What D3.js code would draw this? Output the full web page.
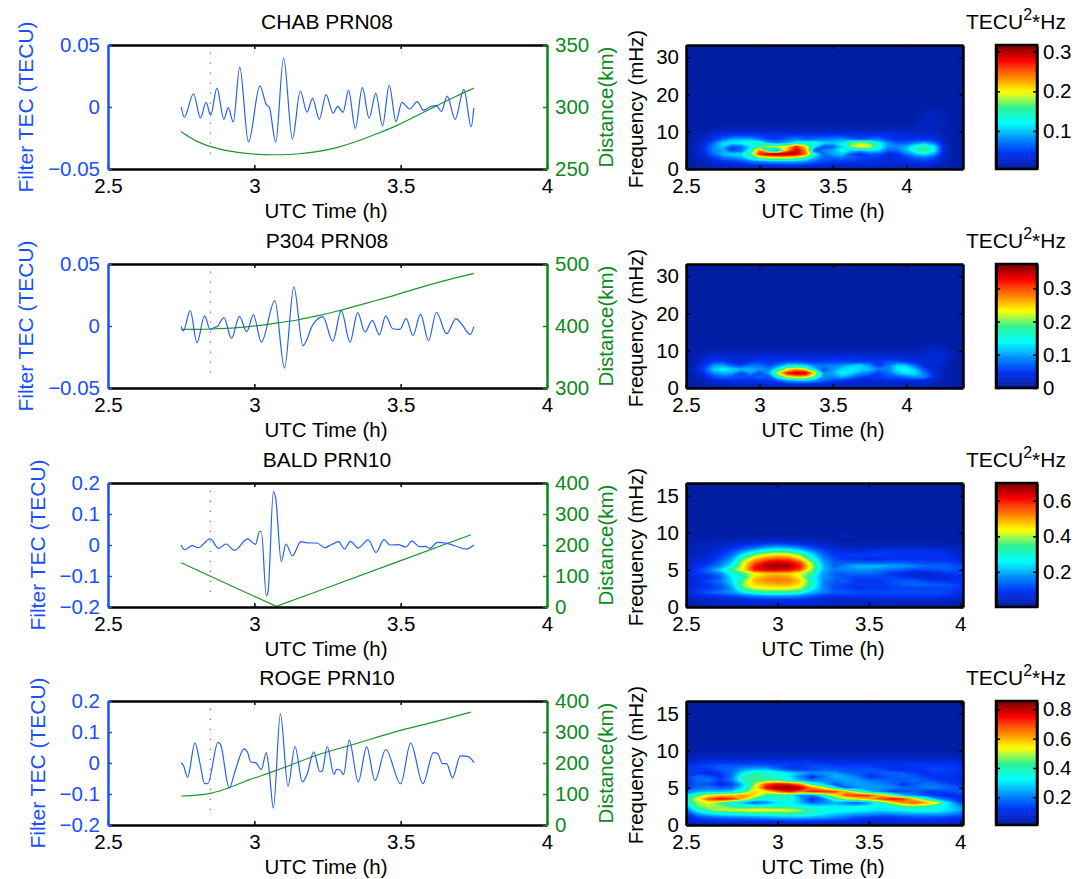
<!DOCTYPE html>
<html>
<head>
<meta charset="utf-8">
<script src="https://cdn.jsdelivr.net/npm/d3@7"></script>
<style>
  html, body { margin: 0; background: #fff; }
  text { font-family: "Liberation Sans", Arial, sans-serif; }
</style>
</head>
<body>
<div id="chart"></div>
<script>
// ---- filtered TEC (TECU), peaks and troughs ----
const chabTime = [2.75,2.761,2.792,2.816,2.835,2.851,2.872,2.896,2.911,2.928,2.95,2.98,3.019,3.041,3.051,3.073,3.1,3.13,3.157,3.18,3.199,3.222,3.245,3.269,3.285,3.303,3.322,3.345,3.369,3.392,3.415,3.438,3.461,3.484,3.504,3.531,3.557,3.578,3.599,3.622,3.639,3.659,3.686,3.716,3.741,3.75];
const chabTec = [0,-.0082,.0107,-.0088,.0038,-.0066,.0153,-.0099,-.0005,-.0121,.0321,-.0282,.017,.0019,0,-.0282,.0397,-.026,.0129,-.0041,.0069,-.0099,.0099,-.0049,.0005,-.0044,.0134,-.0173,.0156,-.009,.011,-.0151,.0175,-.0118,.0038,-.0016,.0044,-.0027,0,.0011,-.0036,.0088,-.0099,.0142,-.0159,-.0008];
const p304Time = [2.75,2.757,2.781,2.804,2.83,2.849,2.862,2.873,2.896,2.922,2.949,2.974,2.997,3.024,3.07,3.103,3.135,3.166,3.2,3.234,3.268,3.297,3.327,3.353,3.378,3.403,3.427,3.449,3.473,3.497,3.519,3.542,3.568,3.595,3.622,3.657,3.689,3.707,3.738,3.75];
const p304Tec = [-.0003,-.0041,.0124,-.0135,.0081,-.0027,-.0014,-.0005,.0068,-.01,.0078,-.0046,.0089,-.013,.0205,-.034,.0316,-.0159,.0011,.0076,-.0122,.0124,-.013,.0108,-.0049,.0046,-.007,.0081,-.0022,-.0027,.0059,-.0076,.0095,-.0119,.0111,-.0062,.0059,.0019,-.0068,-.0005];
const baldTime = [2.75,2.761,2.788,2.808,2.849,2.878,2.903,2.932,2.977,3.004,3.018,3.024,3.041,3.047,3.065,3.073,3.092,3.108,3.13,3.159,3.186,3.214,3.241,3.261,3.288,3.308,3.328,3.355,3.389,3.416,3.443,3.464,3.491,3.518,3.538,3.565,3.585,3.599,3.626,3.659,3.724,3.75];
const baldTec = [0,-.0153,-.0022,-.0087,.0196,-.0109,.0033,-.0174,.0196,.0022,.0436,.0436,-.1635,-.1493,.1722,.1504,-.0534,.0033,-.0349,.0109,.0065,.0065,-.0087,0,.0109,-.0131,.012,-.0098,.0164,-.024,.0174,0,.0011,-.0065,.0131,-.0055,-.0044,-.0109,.0087,.0055,-.0131,0];
const rogeTime = [2.75,2.757,2.772,2.797,2.815,2.83,2.841,2.876,2.884,2.914,2.936,2.965,2.977,2.988,3.004,3.024,3.041,3.051,3.065,3.089,3.115,3.139,3.164,3.18,3.203,3.224,3.232,3.249,3.272,3.281,3.292,3.305,3.324,3.355,3.384,3.412,3.449,3.5,3.534,3.576,3.612,3.626,3.643,3.657,3.677,3.704,3.731,3.75];
const rogeTec = [0,-.0065,-.0457,.0641,-.0043,-.0663,-.0663,.0663,.0609,-.0804,-.0207,.0457,.0337,.0033,.0011,-.0207,.0337,-.0261,-.1457,.1587,-.075,.0533,-.0609,-.037,.0359,-.0283,-.0261,.0533,-.037,-.0207,-.0217,-.037,.0739,-.0609,.0522,-.0565,.0435,-.0674,.0641,-.0663,.0337,.0304,-.0022,-.0022,-.0478,.0228,.0207,.0022];

// ---- distance (km) ----
const chabDistTime = [2.75,2.808,2.876,2.943,3.011,3.078,3.146,3.214,3.281,3.349,3.416,3.484,3.551,3.619,3.686,3.75];
const chabDist = [280.1,271.9,266.4,263.4,261.8,261.5,262.1,264,267.3,272.2,278.2,284.8,292.5,300.5,308.2,315.2];
const p304DistTime = [2.75,2.811,2.876,2.943,3.011,3.078,3.146,3.214,3.281,3.349,3.416,3.484,3.551,3.619,3.686,3.75];
const p304Dist = [394.6,394.6,395.7,397.3,400.5,404.9,409.7,416.2,423.8,432.4,441.1,450.3,460,469,477.5,484.9];
const baldDistTime = [2.75,2.85,2.943,3.075,3.214,3.484,3.74];
const baldDist = [143,99,59,2,50,144,233];
const rogeDistTime = [2.75,2.795,2.849,2.909,2.97,3.078,3.214,3.349,3.484,3.619,3.74];
const rogeDist = [93.5,95.7,102,118.5,141.3,177.2,225,263,301,333.7,364];

// spectrogram cells, percent of the colorbar height, read against the bar
// rows go from low to high frequency, columns every 0.0625 h from 2.5 h
const chabPower = [
[2,2,3,3,4,4,5,5,5,5,5,5,5,5,5,5,4,4,4,4,4,4,4,4,4,4,4,3,3,2,2],
[2,3,4,6,7,8,9,10,11,11,11,12,12,11,10,9,8,8,8,8,8,7,7,7,8,8,8,6,4,3,2],
[2,3,6,9,12,14,16,22,25,27,28,29,28,25,20,16,14,14,13,12,12,10,9,10,10,13,14,12,6,3,2],
[2,4,8,14,20,24,28,40,52,58,60,60,55,48,30,20,20,22,18,16,14,12,8,10,14,18,20,16,7,3,2],
[2,5,11,20,30,34,34,50,85,95,97,97,92,78,40,20,28,32,18,10,18,18,10,12,22,30,36,28,8,3,2],
[2,5,12,24,28,14,20,42,75,30,22,70,92,74,16,24,28,40,32,30,35,32,20,20,30,44,52,38,10,3,2],
[2,5,12,24,32,16,20,34,50,60,60,65,85,66,35,16,18,34,56,64,60,42,26,24,30,42,48,36,10,3,2],
[2,4,9,20,34,36,38,45,42,30,25,30,40,42,42,34,32,36,52,58,52,38,25,18,18,24,28,22,8,3,2],
[2,3,6,12,20,28,30,28,22,14,14,20,24,18,20,22,24,26,20,16,20,22,14,10,12,12,12,10,5,3,2],
[2,4,6,10,13,14,14,14,14,12,11,13,14,13,13,13,14,14,12,11,12,13,12,10,10,9,9,8,5,3,2],
[2,3,4,6,7,8,8,8,7,7,7,7,7,7,7,7,8,7,7,7,7,7,7,7,7,7,7,6,4,3,2],
[2,2,2,3,4,4,4,4,4,4,4,4,4,4,4,4,4,4,4,4,4,4,4,4,4,5,6,5,4,3,2],
[2,2,2,2,2,2,2,2,2,2,2,2,2,2,2,2,2,2,2,2,2,2,2,2,3,5,6,6,5,3,2],
[2,2,2,2,2,2,2,2,2,2,2,2,2,2,2,2,2,2,2,2,2,2,2,2,2,3,5,6,4,2,2],
[2,2,2,2,2,2,2,2,2,2,2,2,2,2,2,2,2,2,2,2,2,2,2,2,2,3,5,5,4,2,2],
[2,2,2,2,2,2,2,2,2,2,2,2,2,2,2,2,2,2,2,2,2,2,2,2,2,2,4,5,3,2,2],
[2,2,2,2,2,2,2,2,2,2,2,2,2,2,2,2,2,2,2,2,2,2,2,2,2,2,3,4,3,2,2],
[2,2,2,2,2,2,2,2,2,2,2,2,2,2,2,2,2,2,2,2,2,2,2,2,2,2,2,3,2,2,2],
[2,2,2,2,2,2,2,2,2,2,2,2,2,2,2,2,2,2,2,2,2,2,2,2,2,2,2,2,2,2,2]];
const p304Power = [
[2,2,3,3,3,3,4,4,4,4,4,4,4,4,4,4,4,4,4,4,4,4,4,4,4,4,4,3,3,2,2],
[2,3,4,6,7,7,8,8,8,9,9,10,10,10,10,9,8,8,7,7,7,7,7,7,7,7,7,5,4,3,2],
[2,3,5,9,11,12,12,12,12,13,18,26,30,30,26,20,16,13,10,9,9,9,10,10,10,10,10,7,4,3,2],
[2,4,9,16,20,18,16,16,20,18,40,62,68,68,50,26,24,30,22,16,12,14,16,18,22,26,24,10,5,3,2],
[2,5,13,24,30,28,14,26,16,28,62,85,95,94,66,24,28,38,34,26,22,14,20,30,36,34,22,10,5,3,2],
[2,7,16,32,38,34,30,30,26,24,40,62,72,62,36,16,26,34,36,34,30,22,22,36,40,30,16,9,4,3,2],
[2,5,13,26,28,20,16,22,22,16,24,36,38,34,24,22,24,26,32,34,26,14,22,34,32,20,9,8,5,3,2],
[2,4,10,15,15,11,9,13,15,13,14,17,17,15,13,15,15,15,15,15,15,13,17,17,15,11,8,9,7,3,2],
[2,4,8,10,9,8,8,8,10,10,10,10,10,10,10,10,11,11,11,10,10,10,10,8,8,8,8,9,8,4,2],
[2,3,5,7,7,7,7,7,7,7,7,7,7,7,7,7,7,8,8,7,7,7,7,7,7,7,7,9,8,4,2],
[2,2,3,4,4,4,4,4,4,4,4,4,4,4,4,4,4,4,4,4,4,4,4,4,4,4,6,8,6,3,2],
[2,2,2,2,2,2,2,2,2,2,2,2,2,2,2,2,2,2,2,2,2,2,2,2,2,3,4,6,4,2,2],
[2,2,2,2,2,2,2,2,2,2,2,2,2,2,2,2,2,2,2,2,2,2,2,2,2,2,2,3,2,2,2],
[2,2,2,2,2,2,2,2,2,2,2,2,2,2,2,2,2,2,2,2,2,2,2,2,2,2,2,2,2,2,2]];
// rows every 0.5 mHz for the lower two
const baldPower = [
[2,3,3,4,4,4,5,5,5,5,5,5,4,4,4,4,4,4,4,3,3,3,3,3,3],
[3,4,5,6,6,7,7,8,8,8,8,8,7,6,5,5,5,5,5,5,5,5,5,4,3],
[4,6,7,8,9,10,11,12,12,12,12,11,9,8,7,7,7,7,7,7,7,7,7,6,5],
[6,9,12,14,16,20,24,26,26,26,24,18,14,13,13,13,13,14,14,14,14,14,14,12,9],
[8,14,18,22,26,36,44,48,48,48,42,30,24,18,18,16,16,16,16,16,16,16,16,15,11],
[8,12,14,16,26,50,60,62,62,62,58,40,24,16,14,12,13,13,14,15,15,15,15,15,12],
[6,10,13,18,30,56,66,68,70,70,64,44,24,16,15,13,13,13,15,18,19,19,18,17,14],
[5,12,16,22,34,52,70,74,76,74,68,46,24,18,18,13,13,13,16,18,18,15,13,12,12],
[6,12,12,18,36,44,66,72,74,72,62,40,26,20,16,15,15,15,15,13,10,8,8,9,11],
[8,12,17,24,40,50,62,66,68,66,60,50,26,18,19,20,20,18,13,10,8,8,10,13,15],
[8,14,22,34,50,64,86,90,90,88,80,56,30,22,24,25,25,22,20,18,15,15,17,18,16],
[6,12,16,24,38,62,86,96,98,96,86,60,30,18,25,30,30,30,28,26,24,20,20,19,16],
[5,9,12,20,32,60,78,88,92,90,80,54,28,18,18,18,18,18,18,18,16,15,15,15,12],
[5,7,9,16,26,50,68,76,80,78,66,44,24,16,12,11,10,11,12,12,12,12,12,11,8],
[4,6,8,13,20,38,54,62,66,64,54,36,20,13,14,14,14,14,14,12,11,12,12,11,7],
[3,5,7,10,16,26,36,44,48,46,38,26,16,12,10,10,11,12,12,12,12,12,12,10,6],
[3,5,6,8,11,16,20,26,30,28,22,16,11,7,6,5,5,6,6,6,6,6,6,5,4],
[3,4,5,6,8,10,12,14,16,14,12,9,7,5,4,4,4,4,4,4,4,4,4,3,3],
[3,3,3,4,4,5,6,6,7,6,6,5,4,3,3,3,3,3,3,3,3,3,3,3,2],
[3,3,3,3,3,3,3,3,3,3,3,3,3,3,4,3,3,2,2,2,2,2,2,2,2],
[2,2,2,2,2,2,2,2,2,2,2,2,2,2,3,2,2,2,2,2,2,2,2,2,2],
[2,2,2,2,2,2,2,2,2,2,2,2,2,2,2,2,2,2,2,2,2,2,2,2,2]];
const rogePower = [
[5,5,5,6,6,6,6,6,6,6,6,6,6,6,6,6,6,6,6,6,6,6,6,5,5],
[7,9,10,10,10,10,10,10,11,12,12,12,12,11,11,10,9,9,9,10,10,10,10,9,8],
[9,14,18,20,22,22,24,26,28,28,30,28,26,24,20,16,14,12,12,14,16,16,15,14,12],
[14,26,34,38,40,42,44,44,46,48,46,42,38,32,30,28,26,24,24,26,28,28,28,26,20],
[20,40,52,58,60,62,64,64,62,62,56,46,42,40,40,38,36,34,36,38,40,40,40,34,28],
[28,52,58,55,48,44,44,44,44,42,38,36,36,36,36,38,38,36,40,50,52,48,40,34,26],
[38,56,62,50,36,28,16,24,34,38,30,18,24,28,20,14,26,44,60,74,80,72,62,34,16],
[44,62,80,88,84,70,46,38,44,46,28,12,20,46,56,62,70,80,88,84,66,46,26,18,12],
[34,50,62,66,68,74,66,50,44,42,24,22,42,62,80,84,82,70,54,30,22,16,12,10,12],
[22,28,30,30,34,44,66,62,76,86,78,85,85,82,70,50,32,22,14,16,18,14,14,16,18],
[14,20,22,18,20,36,60,88,98,100,94,74,62,38,18,24,26,26,24,20,20,22,22,20,16],
[12,18,16,10,14,32,56,80,88,84,74,48,34,16,24,28,26,24,20,12,18,22,20,16,12],
[12,20,22,14,22,44,50,50,50,40,28,22,24,24,28,26,22,20,18,18,20,18,14,12,10],
[14,20,18,12,22,46,50,46,40,36,22,10,20,30,28,22,12,14,18,20,18,14,12,12,10],
[14,12,10,14,20,36,46,44,42,36,30,24,26,26,20,18,16,18,20,18,14,12,14,14,12],
[14,14,14,18,20,26,30,30,22,14,12,16,18,18,16,16,18,16,12,10,12,14,16,14,12],
[12,14,16,18,18,18,18,18,16,14,14,16,16,14,14,14,14,12,12,12,14,14,14,14,12],
[8,10,11,12,12,12,12,12,12,12,12,12,11,10,10,10,11,11,11,11,11,11,10,10,9],
[5,6,7,7,7,7,7,7,7,7,7,7,7,7,6,6,6,7,7,7,7,6,6,6,5],
[3,4,4,4,4,4,4,4,4,4,4,4,4,4,4,4,4,4,4,4,4,4,4,4,3],
[3,3,3,3,3,3,3,3,3,3,3,3,3,3,3,3,3,3,3,3,3,3,3,3,3],
[2,2,2,2,2,2,2,2,2,2,2,2,2,2,2,2,2,2,2,2,2,2,2,2,2]];

const stationNames = ["CHAB PRN08", "P304 PRN08", "BALD PRN10", "ROGE PRN10"];
const timeTicks = [2.5, 3, 3.5, 4];
const tecDomains = [[-0.05, 0.05], [-0.05, 0.05], [-0.2, 0.2], [-0.2, 0.2]];
const tecTicks = [[-0.05, 0, 0.05], [-0.05, 0, 0.05], [-0.2, -0.1, 0, 0.1, 0.2], [-0.2, -0.1, 0, 0.1, 0.2]];
const distDomains = [[250, 350], [300, 500], [0, 400], [0, 400]];
const distTicks = [[250, 300, 350], [300, 400, 500], [0, 100, 200, 300, 400], [0, 100, 200, 300, 400]];
const freqTops = [33.3, 33.3, 16.7, 16.7];
const freqTicks = [[0, 10, 20, 30], [0, 10, 20, 30], [0, 5, 10, 15], [0, 5, 10, 15]];
const freqSteps = [1, 1, 0.5, 0.5];
const specEnd = [4.385, 4.385, 4.015, 4.015];
const barDomains = [[0.004, 0.317], [0, 0.373], [0.002, 0.70], [0.011, 0.857]];
const barTicks = [[0.1, 0.2, 0.3], [0, 0.1, 0.2, 0.3], [0.2, 0.4, 0.6], [0.2, 0.4, 0.6, 0.8]];
const eventTime = 2.85;
const eventSpan = [0.044, 0.044, 0.175, 0.175];

const tecTimes = [chabTime, p304Time, baldTime, rogeTime];
const tecValues = [chabTec, p304Tec, baldTec, rogeTec];
const distTimes = [chabDistTime, p304DistTime, baldDistTime, rogeDistTime];
const distValues = [chabDist, p304Dist, baldDist, rogeDist];
const powerGrids = [chabPower, p304Power, baldPower, rogePower];

const width = 1086, height = 879;
const rowTops = [45, 264, 483, 701];
const rowHeight = 124;
const lineLeft = 108, lineRight = 547;
const specLeft = 686, specRight = 963;
const barLeft = 996, barRight = 1037;
const blue = "#1a50ff", green = "#0b8a1a";
const fontSize = 20.5;

// jet, a bit lifted at the low end like the printed figure
const jet = d3.scaleLinear()
    .domain([0, 12.5, 25, 37.5, 50, 62.5, 75, 87.5, 100])
    .range(["#001a92", "#0030f5", "#0090ff", "#00ffff", "#30f090", "#ffff00", "#ff8000", "#ff0000", "#7a0000"])
    .clamp(true);

const svg = d3.select("#chart").append("svg")
    .attr("width", width)
    .attr("height", height);

function styleAxis(g, color, domainWidth) {
    g.selectAll("text")
        .attr("fill", color)
        .style("font-size", fontSize + "px")
        .style("font-family", '"Liberation Sans", Arial, sans-serif');
    g.selectAll(".tick line").attr("stroke", color).attr("stroke-width", 1.5);
    g.select(".domain").attr("stroke", color).attr("stroke-width", domainWidth);
}

function frameAxis(g, axis, color, tickValues) {
    g.call(axis.tickValues(tickValues).tickSize(-4).tickSizeOuter(0).tickFormat(""));
    styleAxis(g, color, 2.5);
}

function label(x, y, txt, color, rotate, size) {
    return svg.append("text")
        .attr("transform", `translate(${x},${y})` + (rotate ? " rotate(-90)" : ""))
        .attr("text-anchor", "middle")
        .attr("fill", color)
        .style("font-size", (size || fontSize) + "px")
        .text(txt);
}

stationNames.forEach((name, i) => {
    const top = rowTops[i], bottom = top + rowHeight;

    // ---- left panel: filtered TEC and distance ----
    const xTime = d3.scaleLinear().domain([2.5, 4]).range([lineLeft, lineRight]);
    const yTec = d3.scaleLinear().domain(tecDomains[i]).range([bottom, top]);
    const yDist = d3.scaleLinear().domain(distDomains[i]).range([bottom, top]);

    const distLine = d3.line().x((d, j) => xTime(distTimes[i][j])).y(d => yDist(d))
        .curve(i === 2 ? d3.curveLinear : d3.curveCatmullRom);
    const tecLine = d3.line().x((d, j) => xTime(tecTimes[i][j])).y(d => yTec(d)).curve(d3.curveMonotoneX);

    svg.append("line")
        .attr("x1", xTime(eventTime)).attr("x2", xTime(eventTime))
        .attr("y1", yTec(eventSpan[i])).attr("y2", yTec(-eventSpan[i]))
        .attr("stroke", "#c84848")
        .attr("stroke-width", 1.2)
        .attr("stroke-dasharray", "1.2 8.8");

    svg.append("path").datum(distValues[i])
        .attr("fill", "none").attr("stroke", "#1f962a").attr("stroke-width", 1.2)
        .attr("d", distLine);
    svg.append("path").datum(tecValues[i])
        .attr("fill", "none").attr("stroke", "#2461f0").attr("stroke-width", 1.2)
        .attr("d", tecLine);

    const xBottom = svg.append("g").attr("transform", `translate(0,${bottom})`)
        .call(d3.axisBottom(xTime).tickValues(timeTicks).tickSize(-4).tickSizeOuter(0).tickPadding(9).tickFormat(d3.format("")));
    styleAxis(xBottom, "#000", 2.5);
    frameAxis(svg.append("g").attr("transform", `translate(0,${top})`), d3.axisTop(xTime), "#000", timeTicks);

    const yLeft = svg.append("g").attr("transform", `translate(${lineLeft},0)`)
        .call(d3.axisLeft(yTec).tickValues(tecTicks[i]).tickSize(-4).tickSizeOuter(0).tickPadding(8).tickFormat(d3.format("")));
    styleAxis(yLeft, blue, 2.5);
    const yRight = svg.append("g").attr("transform", `translate(${lineRight},0)`)
        .call(d3.axisRight(yDist).tickValues(distTicks[i]).tickSize(-4).tickSizeOuter(0).tickPadding(8).tickFormat(d3.format("")));
    styleAxis(yRight, green, 2.5);

    label(327, top - 16, name, "#000", false, 21);
    label(326, bottom + 49, "UTC Time (h)", "#000");
    label(i < 2 ? 33 : 45, top + rowHeight / 2, "Filter TEC (TECU)", blue, true, 21);
    label(613, top + rowHeight / 2, "Distance(km)", green, true);

    // ---- right panel: spectrogram ----
    const xSpec = d3.scaleLinear().domain([2.5, specEnd[i]]).range([specLeft, specRight]);
    const yFreq = d3.scaleLinear().domain([0, freqTops[i]]).range([bottom, top]);
    const bar = d3.scaleLinear().domain(barDomains[i]).range([bottom, top]);

    const grid = powerGrids[i];
    const nx = grid[0].length, ny = grid.length;
    if (grid.some(r => r.length !== nx)) throw new Error("bad grid " + name);

    const clipId = "spec-clip-" + i;
    svg.append("clipPath").attr("id", clipId).append("rect")
        .attr("x", specLeft).attr("y", top)
        .attr("width", specRight - specLeft).attr("height", rowHeight);

    const bands = d3.range(64);
    const lo = barDomains[i][0], hi = barDomains[i][1];
    const toPower = d3.scaleLinear().domain([0, 100]).range([lo, hi]);
    const powerValues = grid.flat().map(toPower);
    const contours = d3.contours().size([nx, ny])
        .thresholds(bands.map(b => toPower(b / 64 * 100)))(powerValues);

    // grid index space to pixels, through the panel scales
    const toPixels = d3.geoTransform({
        point(px, py) {
            this.stream.point(xSpec(2.5 + (px - 0.5) * 0.0625), yFreq((py - 0.5) * freqSteps[i]));
        }
    });
    const path = d3.geoPath(toPixels);

    const spec = svg.append("g").attr("clip-path", `url(#${clipId})`);
    spec.append("rect")
        .attr("x", specLeft).attr("y", top)
        .attr("width", specRight - specLeft).attr("height", rowHeight)
        .attr("fill", jet(2));
    spec.selectAll("path").data(contours).enter().append("path")
        .attr("d", path)
        .attr("fill", (d, j) => jet((j + 0.5) / 64 * 100));

    const specTicks = timeTicks.filter(t => t <= specEnd[i]);
    const sxBottom = svg.append("g").attr("transform", `translate(0,${bottom})`)
        .call(d3.axisBottom(xSpec).tickValues(specTicks).tickSize(-4).tickSizeOuter(0).tickPadding(9).tickFormat(d3.format("")));
    styleAxis(sxBottom, "#000", 2.5);
    frameAxis(svg.append("g").attr("transform", `translate(0,${top})`), d3.axisTop(xSpec), "#000", specTicks);
    const syLeft = svg.append("g").attr("transform", `translate(${specLeft},0)`)
        .call(d3.axisLeft(yFreq).tickValues(freqTicks[i]).tickSize(-4).tickSizeOuter(0).tickPadding(7).tickFormat(d3.format("")));
    styleAxis(syLeft, "#000", 2.5);
    frameAxis(svg.append("g").attr("transform", `translate(${specRight},0)`), d3.axisRight(yFreq), "#000", freqTicks[i]);

    label(823, bottom + 49, "UTC Time (h)", "#000");
    label(643, top + rowHeight / 2 + 2, "Frequency (mHz)", "#000", true);

    // ---- colorbar ----
    const barStep = (hi - lo) / 64;
    svg.append("g").selectAll("rect").data(bands).enter().append("rect")
        .attr("x", barLeft)
        .attr("width", barRight - barLeft)
        .attr("y", b => bar(lo + (b + 1) * barStep))
        .attr("height", b => bar(lo + b * barStep) - bar(lo + (b + 1) * barStep) + 0.5)
        .attr("fill", b => jet((b + 0.5) / 64 * 100));

    const barAxisRight = svg.append("g").attr("transform", `translate(${barRight},0)`)
        .call(d3.axisRight(bar).tickValues(barTicks[i]).tickSize(-4).tickSizeOuter(0).tickPadding(6).tickFormat(d3.format("")));
    styleAxis(barAxisRight, "#000", 2.5);
    frameAxis(svg.append("g").attr("transform", `translate(${barLeft},0)`), d3.axisLeft(bar), "#000", barTicks[i]);
    svg.append("rect")
        .attr("x", barLeft).attr("y", top)
        .attr("width", barRight - barLeft).attr("height", rowHeight)
        .attr("fill", "none").attr("stroke", "#000").attr("stroke-width", 2.5);

    const unit = svg.append("text")
        .attr("x", 1016).attr("y", top - 16)
        .attr("text-anchor", "middle")
        .attr("fill", "#000")
        .style("font-size", "21px");
    unit.append("tspan").text("TECU");
    unit.append("tspan").attr("dy", -9).style("font-size", "16px").text("2");
    unit.append("tspan").attr("dy", 9).text("*Hz");
});
</script>
</body>
</html>
